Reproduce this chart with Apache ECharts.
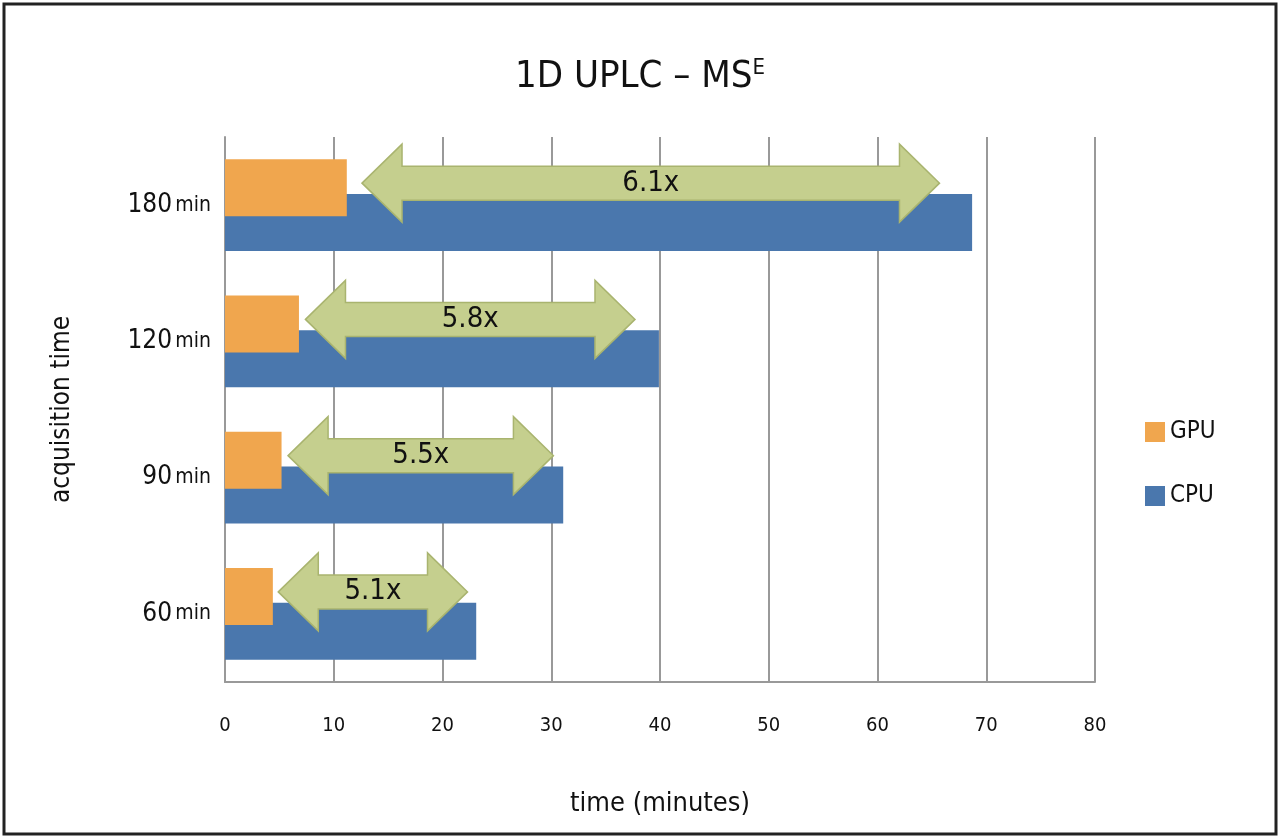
<!DOCTYPE html>
<html><head><meta charset="utf-8">
<script src="https://cdn.jsdelivr.net/npm/echarts@6/dist/echarts.min.js"></script>
<style>html,body{margin:0;padding:0;background:#fff}#c{width:1280px;height:838px}</style>
</head><body><div id="c"></div>
<script>
const categories = ['60 min','90 min','120 min','180 min'];
const gpuValues = [4.4, 5.2, 6.8, 11.2];
const cpuValues = [23.1, 31.1, 39.9, 68.7];
const arrowStart = [4.9, 5.8, 7.4, 12.6];
const arrowEnd = [22.3, 30.2, 37.7, 65.7];
const arrowLabels = ['5.1x','5.5x','5.8x','6.1x'];
const xTicks = [0,10,20,30,40,50,60,70,80];

const font = "'DejaVu Sans Condensed','Liberation Sans Narrow',sans-serif";
const chart = echarts.init(document.getElementById('c'));
const arrowData = categories.map((c,i)=>[arrowStart[i], arrowEnd[i], i, arrowLabels[i]]);
chart.setOption({
  animation:false,
  graphic:[{type:'rect',shape:{x:4,y:4,width:1272,height:830},style:{fill:'none',stroke:'#222',lineWidth:3}}],
  title:{text:'1D UPLC – MS{s|E}',left:'center',top:52,
    textStyle:{fontFamily:font,fontSize:38,fontWeight:'normal',color:'#111',
      rich:{s:{fontFamily:font,fontSize:22,verticalAlign:'top',padding:[0,0,18,0],color:'#111'}}}},
  legend:{data:['GPU','CPU'],orient:'vertical',left:1140,top:415,itemWidth:20,itemHeight:20,itemGap:40,
    textStyle:{fontFamily:font,fontSize:24,color:'#111'},icon:'rect'},
  grid:{left:225,right:185,top:137,bottom:156},
  xAxis:{type:'value',min:0,max:80,interval:10,
    name:'time (minutes)',nameLocation:'middle',nameGap:108,
    nameTextStyle:{fontFamily:font,fontSize:27,color:'#111'},
    axisLine:{show:true,lineStyle:{color:'#999',width:2}},axisTick:{show:false},
    axisLabel:{fontFamily:font,fontSize:20,color:'#111',margin:34,formatter:v=>xTicks.includes(v)?String(v):''},
    splitLine:{lineStyle:{color:'#999',width:2}}},
  yAxis:{type:'category',data:categories,
    name:'acquisition time',nameLocation:'middle',nameGap:150,nameRotate:90,
    nameTextStyle:{fontFamily:font,fontSize:26,color:'#111'},
    axisLine:{lineStyle:{color:'#999',width:2}},axisTick:{show:false},
    axisLabel:{margin:14,formatter:v=>{const p=v.split(' ');return '{a|'+p[0]+'} {b|'+p[1]+'}';},
      rich:{a:{fontFamily:font,fontSize:26,color:'#111'},b:{fontFamily:font,fontSize:21,color:'#111'}}}},
  series:[
    {name:'GPU',type:'bar',data:gpuValues,barWidth:57,barGap:'-39%',itemStyle:{color:'#f0a64e'},z:3},
    {name:'CPU',type:'bar',data:cpuValues,barWidth:57,barGap:'-39%',itemStyle:{color:'#4a77ad'},z:2},
    {name:'arrows',type:'custom',data:arrowData,z:5,
      renderItem:(params,api)=>{
        const a=api.coord([api.value(0),api.value(2)]);
        const b=api.coord([api.value(1),api.value(2)]);
        const y=a[1]-22, x0=a[0], x1=b[0], hl=40, hh=39, sh=17;
        const pts=[[x0,y],[x0+hl,y-hh],[x0+hl,y-sh],[x1-hl,y-sh],[x1-hl,y-hh],[x1,y],[x1-hl,y+hh],[x1-hl,y+sh],[x0+hl,y+sh],[x0+hl,y+hh]];
        return {type:'group',children:[
          {type:'polygon',shape:{points:pts},style:{fill:'#c5cf8e',stroke:'#a9b46f',lineWidth:1.5}},
          {type:'text',style:{text:arrowLabels[params.dataIndex],x:(x0+x1)/2,y:y,align:'center',verticalAlign:'middle',
            font:'29px '+font,fill:'#111'}}]};
      }}
  ]
});
</script></body></html>
